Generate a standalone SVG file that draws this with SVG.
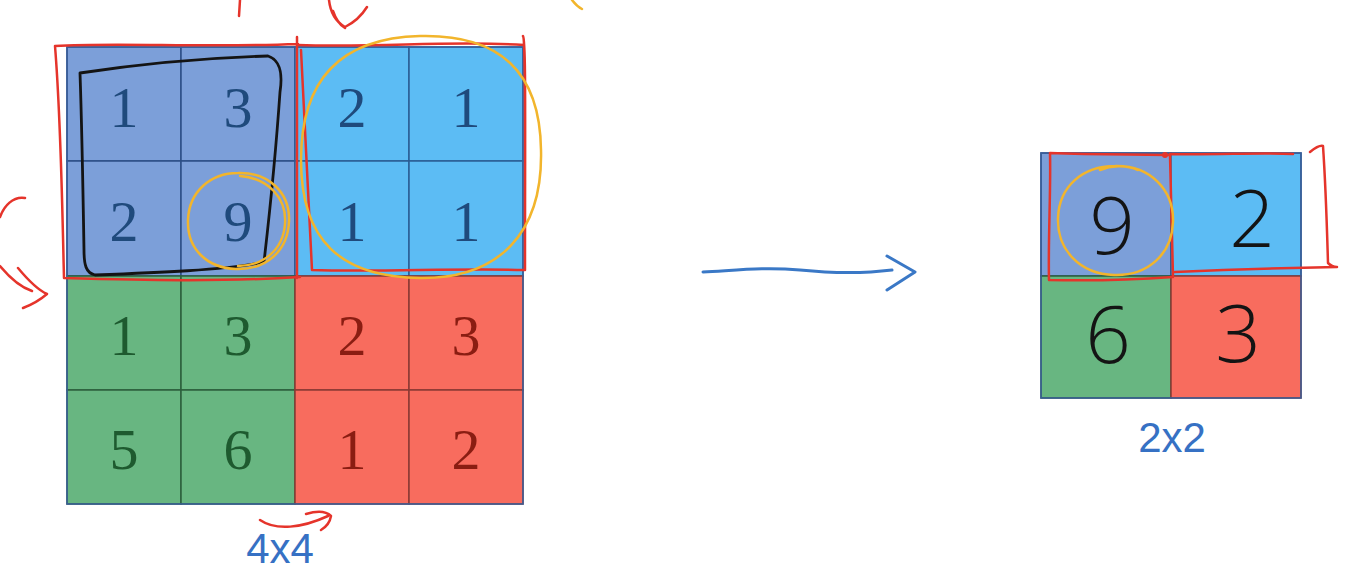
<svg xmlns="http://www.w3.org/2000/svg" width="1371" height="574" viewBox="0 0 1371 574">
<style>
.cb{fill:#7c9fd9;stroke:#2c4f86;stroke-width:1.5}
.cl{fill:#5cbcf4;stroke:#2b5d94;stroke-width:1.5}
.cg{fill:#68b681;stroke:#2c5f3d;stroke-width:1.5}
.cr{fill:#f86c5e;stroke:#8a3a35;stroke-width:1.5}
.n{font-family:"Liberation Serif","DejaVu Serif",serif;font-size:58px;text-anchor:middle}
.nb{fill:#1f4a7c}
.ng{fill:#1e5a2f}
.nr{fill:#8a1d12}
.h{font-family:"Open Sans","Liberation Sans",sans-serif;font-weight:300;font-size:80px;text-anchor:middle;fill:#141414}
.lbl{font-family:"Liberation Sans","DejaVu Sans",sans-serif;font-size:42px;text-anchor:middle;fill:#3671c4}
.red{fill:none;stroke:#e5342b;stroke-width:2.5;stroke-linecap:round;stroke-linejoin:round}
.org{fill:none;stroke:#f2b52c;stroke-width:2.5;stroke-linecap:round;stroke-linejoin:round}
.blk{fill:none;stroke:#141414;stroke-width:2.8;stroke-linecap:round;stroke-linejoin:round}
.blu{fill:none;stroke:#3a78c6;stroke-width:3;stroke-linecap:round;stroke-linejoin:round}
</style>
<rect width="1371" height="574" fill="#ffffff"/>
<g id="input-grid">
<rect class="cb" x="67" y="47" width="114" height="114"/>
<rect class="cb" x="181" y="47" width="114" height="114"/>
<rect class="cb" x="67" y="161" width="114" height="115"/>
<rect class="cb" x="181" y="161" width="114" height="115"/>
<rect class="cl" x="295" y="47" width="114" height="114"/>
<rect class="cl" x="409" y="47" width="114" height="114"/>
<rect class="cl" x="295" y="161" width="114" height="115"/>
<rect class="cl" x="409" y="161" width="114" height="115"/>
<rect class="cg" x="67" y="276" width="114" height="114"/>
<rect class="cg" x="181" y="276" width="114" height="114"/>
<rect class="cg" x="67" y="390" width="114" height="114"/>
<rect class="cg" x="181" y="390" width="114" height="114"/>
<rect class="cr" x="295" y="276" width="114" height="114"/>
<rect class="cr" x="409" y="276" width="114" height="114"/>
<rect class="cr" x="295" y="390" width="114" height="114"/>
<rect class="cr" x="409" y="390" width="114" height="114"/>
<rect x="67" y="47" width="456" height="457" fill="none" stroke="#3a5f9a" stroke-width="1.5"/>
<text class="n nb" x="124" y="127">1</text>
<text class="n nb" x="238" y="127">3</text>
<text class="n nb" x="124" y="241">2</text>
<text class="n nb" x="238" y="241">9</text>
<text class="n nb" x="352" y="127">2</text>
<text class="n nb" x="466" y="127">1</text>
<text class="n nb" x="352" y="241">1</text>
<text class="n nb" x="466" y="241">1</text>
<text class="n ng" x="124" y="355">1</text>
<text class="n ng" x="238" y="355">3</text>
<text class="n ng" x="124" y="469">5</text>
<text class="n ng" x="238" y="469">6</text>
<text class="n nr" x="352" y="355">2</text>
<text class="n nr" x="466" y="355">3</text>
<text class="n nr" x="352" y="469">1</text>
<text class="n nr" x="466" y="469">2</text>
</g>
<g id="output-grid">
<rect class="cb" x="1041" y="153" width="130" height="123"/>
<rect class="cl" x="1171" y="153" width="130" height="123"/>
<rect class="cg" x="1041" y="276" width="130" height="122"/>
<rect class="cr" x="1171" y="276" width="130" height="122"/>
<rect x="1041" y="153" width="260" height="245" fill="none" stroke="#3a5f9a" stroke-width="1.5"/>
<text class="h" x="1112" y="254">9</text>
<text class="h" x="1252" y="247">2</text>
<text class="h" x="1108" y="363">6</text>
<text class="h" x="1238" y="362">3</text>
</g>
<g id="labels">
<text class="lbl" x="280" y="563">4x4</text>
<text class="lbl" x="1172" y="452">2x2</text>
</g>
<g id="connectors">
<path class="blu" d="M703,272 C740,270 765,267 800,270 C840,274 868,273 892,270"/>
<path class="blu" d="M887,256 L915,272 L887,290"/>
</g>
<g id="annotations">
<path class="red" d="M55,46 C120,42 200,48 298,44 M55,46 C61,120 62,200 64,278 C140,280 220,282 300,277 M297,37 L297,278"/>
<path class="red" d="M298,45 C380,48 450,40 524,45 M523,36 C526,40 525,120 525,270 C460,268 380,272 312,270 C308,200 305,120 301,50"/>
<path class="blk" d="M80,73 C140,64 200,58 268,56 C280,60 283,72 280,92 C276,150 270,210 264,262 C230,270 150,273 95,275 C86,273 84,265 84,250 C83,190 82,130 80,73 Z"/>
<path class="org" d="M238,173 C268,172 290,192 289,221 C288,252 265,270 236,269 C207,268 187,249 188,220 C189,192 210,173 238,173 Z M240,176 C268,178 287,198 285,224 C283,251 262,266 238,266"/>
<path class="org" d="M420,36 C500,34 540,72 541,150 C543,232 500,279 420,278 C340,277 301,240 301,160 C301,80 340,38 420,36 Z"/>
<path class="red" d="M25,198 C13,196 4,206 0,217 M0,266 C10,278 20,287 32,291 M18,268 C28,280 38,290 47,294 C40,300 31,305 23,308"/>
<path class="red" d="M260,520 C276,531 302,528 328,516 M306,514 C316,511 326,511 331,516 C330,522 326,527 321,530"/>
<path class="red" d="M240,0 L239,16 M329,0 C330,9 333,20 345,27 C355,22 362,15 367,7 M333,11 C336,20 340,25 345,28"/>
<path class="org" d="M572,0 C575,4 578,7 582,9"/>
<path class="red" d="M1050,153 C1100,155 1140,154 1170,155 L1173,277 C1130,280 1090,281 1049,280 C1048,240 1051,190 1050,153 Z M1170,154 C1220,155 1260,152 1293,154 M1310,152 C1315,148 1320,145 1323,146 C1326,190 1327,230 1328,263 C1331,266 1334,267 1337,267 C1280,268 1220,270 1175,272"/>
<circle cx="1165" cy="155" r="3" fill="#e5342b"/>
<path class="org" d="M1115,166 C1150,165 1174,190 1173,222 C1172,254 1148,276 1114,275 C1080,274 1057,250 1058,218 C1059,187 1082,166 1115,166 Z M1100,170 C1110,166 1125,164 1138,170"/>
</g>
</svg>
